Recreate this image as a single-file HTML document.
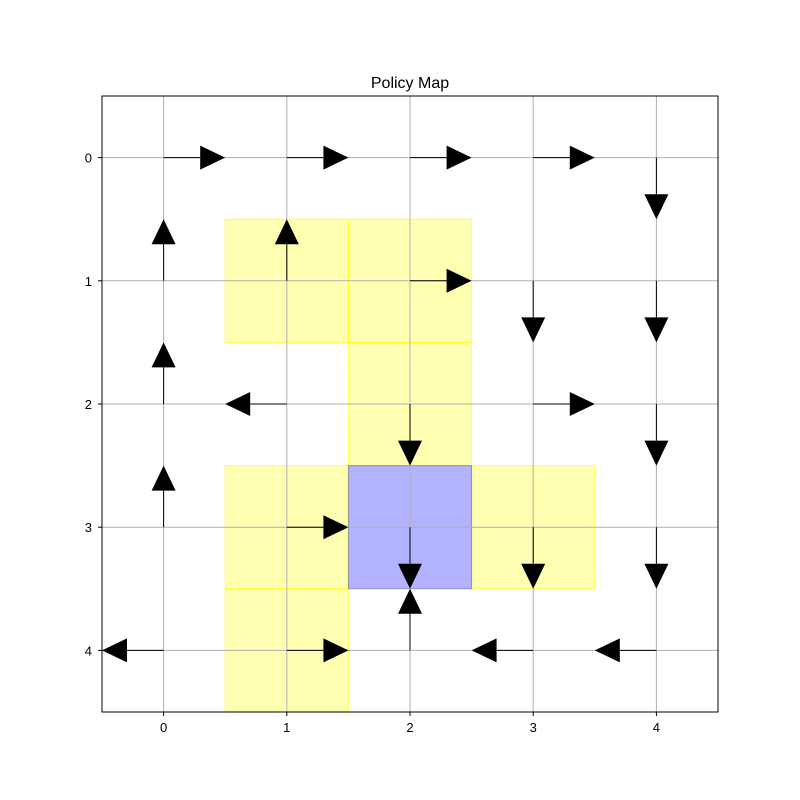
<!DOCTYPE html>
<html><head><meta charset="utf-8"><style>body{margin:0;background:#fff}svg{display:block}</style></head>
<body>
<svg id="chart" width="800" height="800" xmlns="http://www.w3.org/2000/svg" font-family="Liberation Sans, DejaVu Sans, sans-serif">
<rect width="800" height="800" fill="#fff"/>
<text x="410" y="88" text-anchor="middle" font-size="16">Policy Map</text>
<g id="cells"></g><g id="grid"></g><g id="arrows"></g><g id="ticks"></g>
<rect x="102" y="96" width="616" height="616" fill="none" stroke="#000" stroke-width="1"/>
</svg>
<script>
const policy = [
 ['R','R','R','R','D'],
 ['U','U','R','D','D'],
 ['U','L','D','R','D'],
 ['U','R','D','D','D'],
 ['L','R','U','L','L']
];
const yellowCells = [[1,1],[1,2],[2,2],[3,1],[3,3],[4,1]];
const goalCells = [[3,2]];
const tickLabels = ['0','1','2','3','4'];
const ns='http://www.w3.org/2000/svg';
const X0=102,Y0=96,U=123.2;
const sx=c=>X0+(c+0.5)*U, sy=r=>Y0+(r+0.5)*U;
function mk(tag,attrs,parent){const e=document.createElementNS(ns,tag);for(const k in attrs)e.setAttribute(k,attrs[k]);document.getElementById(parent).appendChild(e);return e;}
yellowCells.forEach(([r,c])=>{
 const e=mk('rect',{x:sx(c-0.5),y:sy(r-0.5),width:U,height:U,fill:'rgba(255,255,0,0.3)',stroke:'rgba(255,255,0,0.6)'},'cells');
 
 
});
goalCells.forEach(([r,c])=>{
 const e=mk('rect',{x:sx(c-0.5),y:sy(r-0.5),width:U,height:U,fill:'rgba(0,0,255,0.3)',stroke:'rgba(0,0,160,0.3)'},'cells');
 
 
});
tickLabels.forEach((t,i)=>{
 const v=mk('line',{x1:sx(i),x2:sx(i),y1:96,y2:712,stroke:'#b0b0b0','stroke-width':1},'grid');
 
 
 const h=mk('line',{y1:sy(i),y2:sy(i),x1:102,x2:718,stroke:'#b0b0b0','stroke-width':1},'grid');
 
 
 const tx=mk('line',{x1:sx(i),x2:sx(i),y1:712,y2:716,stroke:'#000'},'ticks');
 
 
 const ty=mk('line',{y1:sy(i),y2:sy(i),x1:98,x2:102,stroke:'#000'},'ticks');
 
 
 const lx=mk('text',{x:sx(i),y:732,'text-anchor':'middle','font-size':13},'ticks');lx.textContent=t;
 
 
 const ly=mk('text',{x:92,y:sy(i)+5,'text-anchor':'end','font-size':13},'ticks');ly.textContent=t;
 
 
});
const dirs={R:[1,0],L:[-1,0],U:[0,-1],D:[0,1]};
policy.forEach((row,r)=>row.forEach((d,c)=>{
 const [dx,dy]=dirs[d];const x=sx(c),y=sy(r),L=0.5*U,H=25,W=12;
 const tx=x+dx*L,ty=y+dy*L,bx=tx-dx*H,by=ty-dy*H;
 const g=mk('g',{},'arrows');
 
 
 const ln=document.createElementNS(ns,'line');
 [['x1',x],['y1',y],['x2',bx],['y2',by],['stroke','#000'],['stroke-width',1]].forEach(([k,v])=>ln.setAttribute(k,v));
 g.appendChild(ln);
 const p=document.createElementNS(ns,'polygon');
 const px=-dy,py=dx;
 p.setAttribute('points',`${tx},${ty} ${bx+px*W},${by+py*W} ${bx-px*W},${by-py*W}`);
 p.setAttribute('fill','#000');
 g.appendChild(p);
}));
</script>
</body></html>
